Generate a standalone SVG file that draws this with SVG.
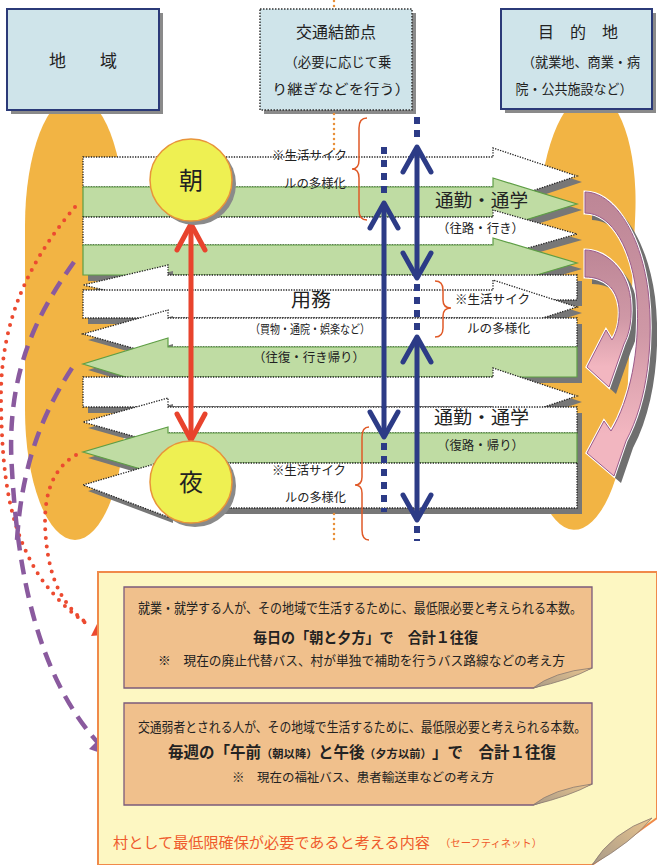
<svg xmlns="http://www.w3.org/2000/svg" width="657" height="865" viewBox="0 0 657 865">
<defs>
<style>
.t{font-family:"Noto Sans CJK JP","Noto Sans CJK SC",sans-serif;fill:#222}
.box{fill:#cfe4ea}
.sh{fill:#8a8a8a}
.w{fill:#fff;stroke:#222;stroke-width:1.3;stroke-dasharray:1.3 1.3}
.g{fill:#bfdca3;stroke:#5e9e45;stroke-width:1.2}
.ash{fill:#777}
.blue{stroke:#2c3b86;stroke-width:5;fill:none;stroke-linecap:round;stroke-linejoin:round}
.bdash{stroke:#2c3b86;stroke-width:6;fill:none;stroke-dasharray:7 6}
.red{stroke:#e8432d;stroke-width:5;fill:none;stroke-linecap:round;stroke-linejoin:round}
.brace{stroke:#e05a28;stroke-width:1.5;fill:none}
.odot{stroke:#e8903a;stroke-width:2.5;stroke-dasharray:0 5;stroke-linecap:round;fill:none}
.rdot{stroke:#ec4a30;stroke-width:4;stroke-dasharray:0 8.5;stroke-linecap:round;fill:none}
.pdash{stroke:#8a5a9e;stroke-width:4.5;stroke-dasharray:15 9;fill:none}
.orange{fill:#f2b444}
.tan{fill:#f0c08c;stroke:#7b5b7b;stroke-width:1.3}
.curl{fill:url(#curlg);stroke:#8a7a70;stroke-width:0.8}
.rt{font-family:"Noto Sans CJK JP","Noto Sans CJK SC",sans-serif;fill:#ef5a2c}
</style>
<linearGradient id="pink" x1="0" y1="0" x2="0" y2="1">
<stop offset="0" stop-color="#bd8696"/>
<stop offset="0.5" stop-color="#cf98a6"/>
<stop offset="0.85" stop-color="#f2b6c0"/>
</linearGradient>
<linearGradient id="curlg" x1="0" y1="1" x2="1" y2="0">
<stop offset="0" stop-color="#a89a88"/>
<stop offset="1" stop-color="#e8c48e"/>
</linearGradient>
<path id="pa" d="M585,192 C612,192 640,230 648,290 C654,340 648,400 626,441 L614,476 L587,453 L604,421 L611,431 C630,400 640,350 637,300 C633,250 612,213 585,213 Z"/>
<path id="pb" d="M585,250 C605,250 630,270 631,305 C632,325 628,336 624,344 L609,387 L587,367 L606,330 L612,340 C617,332 620,320 619,308 C617,288 604,277 585,277 Z"/>
</defs>

<!-- orange regions -->
<g id="area-left"><rect class="orange" x="25" y="95" width="100" height="445" rx="50" ry="130"/></g>
<g id="area-right"><rect class="orange" x="535" y="92" width="96" height="438" rx="48" ry="120" transform="rotate(2.5 583 311)"/></g>

<!-- top nodes -->
<g id="node-chiiki">
<rect class="sh" x="11" y="13" width="152" height="101"/>
<rect class="box" x="7" y="9" width="152" height="101" stroke="#2b3a78" stroke-width="2"/>
<text class="t" x="83" y="67" font-size="17" text-anchor="middle">地　　域</text>
</g>
<g id="node-kotsu">
<rect class="sh" x="264" y="13" width="152" height="101"/>
<rect class="box" x="260" y="9" width="152" height="101" stroke="#333" stroke-width="1.5" stroke-dasharray="1.5 1.5"/>
<text class="t" x="336" y="38" font-size="16" text-anchor="middle">交通結節点</text>
<text class="t" x="338" y="67" font-size="13.5" text-anchor="middle" textLength="107" lengthAdjust="spacingAndGlyphs">（必要に応じて乗</text>
<text class="t" x="341" y="94" font-size="14" text-anchor="middle" textLength="138" lengthAdjust="spacingAndGlyphs">り継ぎなどを行う）</text>
</g>
<g id="node-mokuteki">
<rect class="sh" x="505" y="13" width="151" height="100"/>
<rect class="box" x="501" y="9" width="151" height="100" stroke="#2b3a78" stroke-width="2"/>
<text class="t" x="578" y="38" font-size="16" text-anchor="middle">目　的　地</text>
<text class="t" x="581" y="67" font-size="13.5" text-anchor="middle" textLength="118" lengthAdjust="spacingAndGlyphs">（就業地、商業・病</text>
<text class="t" x="574" y="94" font-size="13.5" text-anchor="middle" textLength="117" lengthAdjust="spacingAndGlyphs">院・公共施設など）</text>
</g>

<!-- flow bands -->
<g id="flows">
<polygon class="ash" transform="translate(5 6)" points="83,157 493,157 493,148 577,176 493,204 493,187 83,187"/>
<polygon class="w" points="83,157 493,157 493,148 577,176 493,204 493,187 83,187"/>
<polygon class="ash" transform="translate(5 6)" points="83,187 493,187 493,178 577,204 493,230 493,217 83,217"/>
<polygon class="g" points="83,187 493,187 493,178 577,204 493,230 493,217 83,217"/>
<polygon class="ash" transform="translate(5 6)" points="83,217 493,217 493,210 577,234 493,258 493,245 83,245"/>
<polygon class="w" points="83,217 493,217 493,210 577,234 493,258 493,245 83,245"/>
<polygon class="ash" transform="translate(5 6)" points="83,245 493,245 493,238 577,263 493,288 493,275 83,275"/>
<polygon class="g" points="83,245 493,245 493,238 577,263 493,288 493,275 83,275"/>
<polygon class="ash" transform="translate(5 6)" points="577,275 168,275 168,265 83,285 168,305 168,300 577,300"/>
<polygon class="w" points="577,275 168,275 168,265 83,285 168,305 168,300 577,300"/>
<polygon class="ash" transform="translate(5 6)" points="83,290 493,290 493,280 577,307 493,334 493,318 83,318"/>
<polygon class="w" points="83,290 493,290 493,280 577,307 493,334 493,318 83,318"/>
<polygon class="ash" transform="translate(5 6)" points="577,318 168,318 168,310 83,334 168,358 168,347 577,347"/>
<polygon class="w" points="577,318 168,318 168,310 83,334 168,358 168,347 577,347"/>
<polygon class="ash" transform="translate(5 6)" points="577,347 168,347 168,338 83,364 168,390 168,377 577,377"/>
<polygon class="g" points="577,347 168,347 168,338 83,364 168,390 168,377 577,377"/>
<polygon class="ash" transform="translate(5 6)" points="83,377 493,377 493,368 577,396 493,424 493,407 83,407"/>
<polygon class="w" points="83,377 493,377 493,368 577,396 493,424 493,407 83,407"/>
<polygon class="ash" transform="translate(5 6)" points="577,407 168,407 168,398 83,422 168,446 168,433 577,433"/>
<polygon class="w" points="577,407 168,407 168,398 83,422 168,446 168,433 577,433"/>
<polygon class="ash" transform="translate(5 6)" points="577,433 168,433 168,427 83,452 168,477 168,463 577,463"/>
<polygon class="g" points="577,433 168,433 168,427 83,452 168,477 168,463 577,463"/>
<polygon class="ash" transform="translate(5 6)" points="577,463 168,463 168,460 83,485 168,517 168,508 577,508"/>
<polygon class="w" points="577,463 168,463 168,460 83,485 168,517 168,508 577,508"/>
</g>

<!-- pink return arrows -->
<g id="return-arrows">
<use href="#pa" fill="#6f6f6f" transform="translate(7 7)"/>
<use href="#pb" fill="#6f6f6f" transform="translate(7 7)"/>
<use href="#pa" fill="url(#pink)" stroke="#fff" stroke-width="3"/>
<use href="#pa" fill="url(#pink)" stroke="#9a5a8a" stroke-width="1"/>
<use href="#pb" fill="url(#pink)" stroke="#fff" stroke-width="3"/>
<use href="#pb" fill="url(#pink)" stroke="#9a5a8a" stroke-width="1"/>
</g>

<!-- band labels -->
<g id="labels">
<text class="t" x="272" y="159.5" font-size="12.5" textLength="75" lengthAdjust="spacingAndGlyphs">※生活サイク</text>
<text class="t" x="284" y="187.5" font-size="12.5" textLength="62" lengthAdjust="spacingAndGlyphs">ルの多様化</text>
<text class="t" x="435" y="207" font-size="18" textLength="93" lengthAdjust="spacingAndGlyphs">通勤・通学</text>
<text class="t" x="437" y="233" font-size="12.5" textLength="87" lengthAdjust="spacingAndGlyphs">（往路・行き）</text>
<text class="t" x="291" y="307" font-size="19" textLength="40" lengthAdjust="spacingAndGlyphs">用務</text>
<text class="t" x="250" y="334" font-size="12" textLength="120" lengthAdjust="spacingAndGlyphs">（買物・通院・娯楽など）</text>
<text class="t" x="253" y="362" font-size="12.5" textLength="112" lengthAdjust="spacingAndGlyphs">（往復・行き帰り）</text>
<text class="t" x="455" y="304" font-size="12.5" textLength="75" lengthAdjust="spacingAndGlyphs">※生活サイク</text>
<text class="t" x="467" y="333" font-size="12.5" textLength="63" lengthAdjust="spacingAndGlyphs">ルの多様化</text>
<text class="t" x="434" y="424" font-size="18" textLength="95" lengthAdjust="spacingAndGlyphs">通勤・通学</text>
<text class="t" x="437" y="449.5" font-size="12.5" textLength="87" lengthAdjust="spacingAndGlyphs">（復路・帰り）</text>
<text class="t" x="272" y="474.5" font-size="12.5" textLength="74" lengthAdjust="spacingAndGlyphs">※生活サイク</text>
<text class="t" x="285" y="501.5" font-size="12.5" textLength="61" lengthAdjust="spacingAndGlyphs">ルの多様化</text>
</g>

<!-- connectors -->
<g id="connectors">
<line class="odot" x1="334" y1="1" x2="334" y2="8"/>
<line class="odot" x1="334" y1="114" x2="334" y2="150"/>
<line class="odot" x1="334" y1="514" x2="334" y2="540"/>
<path class="brace" d="M367,118 Q359,118 359,128 L359,160 Q359,169 352,169 Q359,169 359,178 L359,210 Q359,220 367,220"/>
<path class="brace" d="M435,281 Q443,281 443,290 L443,300 Q443,308 451,308 Q443,308 443,316 L443,328 Q443,337 435,337"/>
<path class="brace" d="M369,427 Q362,427 362,437 L362,477 Q362,485 355,485 Q362,485 362,493 L362,530 Q362,540 369,540"/>
<line class="bdash" x1="384" y1="147" x2="384" y2="198"/>
<line class="blue" x1="384" y1="205" x2="384" y2="435"/>
<polyline class="blue" points="370,228 384,203 398,228"/>
<polyline class="blue" points="370,412 384,437 398,412"/>
<line class="bdash" x1="384" y1="443" x2="384" y2="512"/>
<line class="bdash" x1="417" y1="117" x2="417" y2="141"/>
<line class="blue" x1="417" y1="149" x2="417" y2="276"/>
<polyline class="blue" points="403,172 417,147 431,172"/>
<polyline class="blue" points="403,253 417,278 431,253"/>
<line class="bdash" x1="417" y1="284" x2="417" y2="332"/>
<line class="blue" x1="417" y1="339" x2="417" y2="518"/>
<polyline class="blue" points="403,362 417,337 431,362"/>
<polyline class="blue" points="403,495 417,520 431,495"/>
<line class="bdash" x1="417" y1="526" x2="417" y2="541"/>
<line class="red" x1="191" y1="226" x2="191" y2="438"/>
<polyline class="red" points="177,250 191,224 205,250"/>
<polyline class="red" points="177,414 191,440 205,414"/>
<path class="rdot" d="M75,207 C30,260 0,320 1,400 C2,480 10,530 40,577 C55,598 72,614 90,626"/>
<path class="rdot" d="M76,455 C50,470 42,500 46,540 C50,580 62,605 88,624"/>
<polygon points="91,636 101,616 114,634" fill="#ec4a30"/>
<path class="pdash" d="M74,262 C40,310 5,370 12,470 C18,580 40,680 100,745"/>
<path class="pdash" d="M72,368 C45,410 22,460 17,540"/>
<polygon points="112,757 104,734 89,749" fill="#8a5a9e"/>
</g>

<!-- time nodes -->
<g id="node-asa">
<circle cx="195" cy="184" r="41" fill="#8a8a8a"/>
<circle cx="191" cy="180" r="41" fill="#eef052" stroke="#e8943a" stroke-width="1.5"/>
<text class="t" x="191" y="189" font-size="24" text-anchor="middle">朝</text>
</g>
<g id="node-yoru">
<circle cx="195" cy="486" r="41" fill="#8a8a8a"/>
<circle cx="191" cy="482" r="41" fill="#eef052" stroke="#e8943a" stroke-width="1.5"/>
<text class="t" x="191" y="491" font-size="24" text-anchor="middle">夜</text>
</g>

<!-- safety net box -->
<g id="safety-net">
<polygon points="98,572 657,572 657,818 592,865 98,865" fill="#fdf7c2" stroke="#f08a4a" stroke-width="2"/>
<path class="curl" d="M592,865 Q612,832 652,818 Q632,842 592,865 Z"/>
<text class="rt" x="113" y="848" font-size="15" textLength="317" lengthAdjust="spacingAndGlyphs">村として最低限確保が必要であると考える内容</text>
<text class="rt" x="440" y="847" font-size="10.5" textLength="102" lengthAdjust="spacingAndGlyphs">（セーフティネット）</text>
</g>
<g id="box-daily">
<polygon class="tan" points="124,587 592,587 592,668 533,688 124,688"/>
<path class="curl" d="M533,688 Q553,672 592,668 Q570,680 533,688 Z"/>
<text class="t" x="138" y="613" font-size="13.5" textLength="444" lengthAdjust="spacingAndGlyphs">就業・就学する人が、その地域で生活するために、最低限必要と考えられる本数。</text>
<text class="t" x="253" y="643" font-size="15" font-weight="bold" textLength="225" lengthAdjust="spacingAndGlyphs">毎日の「朝と夕方」で　合計１往復</text>
<text class="t" x="158" y="665" font-size="13" textLength="407" lengthAdjust="spacingAndGlyphs">※　現在の廃止代替バス、村が単独で補助を行うバス路線などの考え方</text>
</g>
<g id="box-weekly">
<polygon class="tan" points="124,703 592,703 592,784 533,805 124,805"/>
<path class="curl" d="M533,805 Q553,789 592,784 Q570,796 533,805 Z"/>
<text class="t" x="138" y="732" font-size="13.5" textLength="448" lengthAdjust="spacingAndGlyphs">交通弱者とされる人が、その地域で生活するために、最低限必要と考えられる本数。</text>
<text class="t" y="758" font-weight="bold"><tspan x="168" font-size="15.5">毎週の「午前</tspan><tspan x="261" font-size="11.3">（朝以降）</tspan><tspan x="318" font-size="15.5">と午後</tspan><tspan x="364" font-size="11.3">（夕方以前）</tspan><tspan x="432" font-size="15.5">」で　合計１往復</tspan></text>
<text class="t" x="232" y="782" font-size="12.5" textLength="262" lengthAdjust="spacingAndGlyphs">※　現在の福祉バス、患者輸送車などの考え方</text>
</g>
</svg>
